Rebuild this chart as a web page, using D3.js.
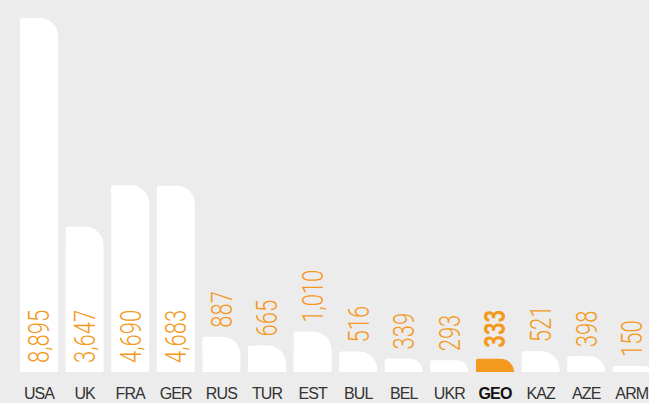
<!DOCTYPE html>
<html>
<head>
<meta charset="utf-8">
<script src="https://cdn.jsdelivr.net/npm/d3@7"></script>
<style>
  html, body { margin: 0; padding: 0; background: #ececec; }
  svg { display: block; }
</style>
</head>
<body>
<div id="chart"></div>
<script>
const width = 649;
const height = 403;

const countries = ["USA", "UK", "FRA", "GER", "RUS", "TUR", "EST", "BUL", "BEL", "UKR", "GEO", "KAZ", "AZE", "ARM"];
const values = [8895, 3647, 4690, 4683, 887, 665, 1010, 516, 339, 293, 333, 521, 398, 150];
const highlight = "GEO";

const orange = "#f39a1e";
const baseline = 372;

const data = countries.map((c, i) => ({ country: c, value: values[i] }));

const x = d3.scaleBand()
    .domain(countries)
    .range([20, 650.8])
    .paddingInner(7.6 / 45.6)
    .paddingOuter(0);

const y = d3.scaleLinear()
    .domain([0, d3.max(values)])
    .range([baseline, 18]);

const svg = d3.select("#chart")
    .append("svg")
    .attr("width", width)
    .attr("height", height);

svg.append("rect")
    .attr("width", width)
    .attr("height", height)
    .attr("fill", "#ececec");

// bar with a big round top-right corner and a tiny top-left one
function barPath(x0, top, w, bottom) {
    const h = bottom - top;
    const rr = Math.min(18, h, w / 2);
    const rl = Math.min(2, h);
    return `M${x0},${bottom}` +
        `V${top + rl}` +
        `Q${x0},${top} ${x0 + rl},${top}` +
        `H${x0 + w - rr}` +
        `A${rr},${rr} 0 0 1 ${x0 + w},${top + rr}` +
        `V${bottom}Z`;
}

svg.selectAll(".bar")
    .data(data)
    .enter()
    .append("path")
    .attr("class", "bar")
    .attr("d", d => barPath(x(d.country), y(d.value), x.bandwidth(), baseline))
    .attr("fill", d => d.country === highlight ? orange : "#ffffff");

const fmt = d3.format(",");

svg.selectAll(".value-label")
    .data(data)
    .enter()
    .append("text")
    .attr("class", "value-label")
    .attr("transform", d => {
        const label = fmt(d.value);
        const len = label.length * 11.5;
        const barH = baseline - y(d.value);
        const yy = barH > len + 20 ? baseline - 9 : y(d.value) - (d.country === highlight ? 11 : 9);
        return `translate(${x(d.country) + x.bandwidth() / 2},${yy}) rotate(-90) scale(0.76,1)`;
    })
    .attr("dy", "0.36em")
    .style("font-family", "Roboto, 'Liberation Sans', sans-serif")
    .style("font-weight", d => d.country === highlight ? 700 : 300)
    .style("font-size", "29px")
    .style("fill", orange)
    .text(d => fmt(d.value));

svg.selectAll(".axis-label")
    .data(data)
    .enter()
    .append("text")
    .attr("class", "axis-label")
    .attr("x", d => x(d.country) + x.bandwidth() / 2)
    .attr("y", 399)
    .style("text-anchor", "middle")
    .style("font-family", "'Liberation Sans', Arial, sans-serif")
    .style("font-size", "16px")
    .style("letter-spacing", "-0.9px")
    .style("font-weight", d => d.country === highlight ? 700 : 400)
    .style("fill", d => d.country === highlight ? "#111" : "#333")
    .text(d => d.country);
</script>
</body>
</html>
